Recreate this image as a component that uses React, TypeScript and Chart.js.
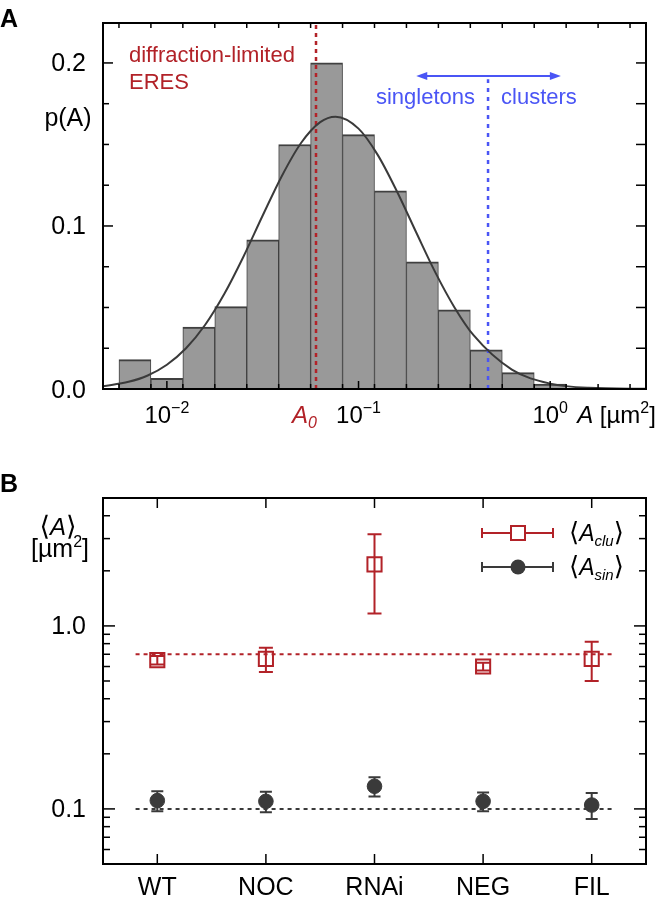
import React, { useEffect, useRef } from "react";
import { Chart, registerables } from "chart.js";
Chart.register(...registerables);

// ---------- Panel A data ----------
const binCenters = [0.006813, 0.01, 0.014678, 0.021544, 0.031623, 0.046416, 0.068129, 0.1, 0.14678, 0.21544, 0.31623, 0.46416, 0.68129, 1.0];
const binP = [0.018, 0.0065, 0.038, 0.0505, 0.0915, 0.15, 0.2, 0.156, 0.1215, 0.078, 0.0485, 0.024, 0.01, 0.003];
const binEdges = [0.005623, 0.008254, 0.012115, 0.017783, 0.026102, 0.038312, 0.056234, 0.08254, 0.12115, 0.17783, 0.26102, 0.38312, 0.56234, 0.8254, 1.2115, 1.7783, 2.6102];
const fitA = [0.004642, 0.00631, 0.007943, 0.01, 0.012589, 0.015849, 0.019953, 0.025119, 0.031623, 0.039811, 0.050119, 0.063096, 0.075858, 0.1, 0.125893, 0.158489, 0.199526, 0.251189, 0.316228, 0.398107, 0.630957, 1.0, 1.584893, 3.162];
const fitP = [0.0017, 0.0044, 0.0083, 0.0149, 0.025, 0.0394, 0.0584, 0.0813, 0.1064, 0.1307, 0.1509, 0.1637, 0.167, 0.1597, 0.1436, 0.1213, 0.0963, 0.0717, 0.0502, 0.033, 0.0119, 0.0033, 0.0007, 0.0001];
const yTicksA = [0, 0.1, 0.2];
const yMinorA = [0, 0.025, 0.05, 0.075, 0.1, 0.125, 0.15, 0.175, 0.2];
const decadesA = [0.01, 0.1, 1];
const decadeExp = ["\u22122", "\u22121", "0"];
const A0 = 0.06;
const splitA = 0.474;
const splitTop = 0.19;
const arrowFrom = 0.2;
const arrowTo = 1.137;
const arrowY = 0.192;
const xMinA = 0.004642;
const xMaxA = 3.162;
const yMaxA = 0.2245;

// ---------- Panel B data ----------
const categories = ["WT", "NOC", "RNAi", "NEG", "FIL"];
const cluMean = [0.65, 0.66, 2.17, 0.6, 0.66];
const cluErr = [0.035, 0.1, 1.0, 0.03, 0.16];
const sinMean = [0.111, 0.11, 0.133, 0.11, 0.105];
const sinErr = [0.014, 0.014, 0.016, 0.013, 0.017];
const cluRef = 0.7;
const sinRef = 0.1;
const refStart = -0.2;
const refEnd = 4.2;
const yTicksB = [0.05, 0.06, 0.07, 0.08, 0.09, 0.1, 0.2, 0.3, 0.4, 0.5, 0.6, 0.7, 0.8, 0.9, 1, 2, 3, 4, 5];
const yLabelsB = [1, 0.1];
const yLabelTextB = ["1.0", "0.1"];

const RED = "#b22228";
const BLUE = "#4a55f5";
const DARK = "#3a3a3a";
const FONT = "'Liberation Sans', Helvetica, Arial, 'DejaVu Sans', sans-serif";

type Seg = { t: string; size: number; style?: string; weight?: string; dy?: number; color?: string };

function rich(ctx: CanvasRenderingContext2D, segs: Seg[], x: number, y: number, align: string, color: string) {
  ctx.textBaseline = "alphabetic";
  ctx.textAlign = "left";
  const fontOf = (s: Seg) => `${s.style || "normal"} ${s.weight || "normal"} ${s.size}px ${FONT}`;
  let w = 0;
  const ws = segs.map((s) => {
    ctx.font = fontOf(s);
    const m = ctx.measureText(s.t).width;
    w += m;
    return m;
  });
  let cx = align === "left" ? x : align === "center" ? x - w / 2 : x - w;
  segs.forEach((s, i) => {
    ctx.font = fontOf(s);
    ctx.fillStyle = s.color || color;
    ctx.fillText(s.t, cx, y + (s.dy || 0));
    cx += ws[i];
  });
}

function line(ctx: CanvasRenderingContext2D, x1: number, y1: number, x2: number, y2: number) {
  ctx.beginPath();
  ctx.moveTo(x1, y1);
  ctx.lineTo(x2, y2);
  ctx.stroke();
}

const plugA = {
  id: "plugA",
  afterDraw(chart: any) {
    const { ctx, chartArea: ca } = chart;
    const x = chart.scales.x;
    const y = chart.scales.y;
    ctx.save();
    ctx.strokeStyle = "#000";
    ctx.lineWidth = 2;
    ctx.strokeRect(ca.left, ca.top, ca.right - ca.left, ca.bottom - ca.top);
    ctx.lineWidth = 1.5;
    yMinorA.forEach((v) => {
      const py = y.getPixelForValue(v);
      const major = Math.abs(v * 10 - Math.round(v * 10)) < 1e-6;
      line(ctx, ca.left, py, ca.left + (major ? 10 : 6), py);
      line(ctx, ca.right, py, ca.right - 10, py);
    });
    binEdges.forEach((v) => {
      const px = x.getPixelForValue(v);
      if (px <= ca.left + 1 || px >= ca.right - 1) return;
      line(ctx, px, ca.top, px, ca.top + 5);
      line(ctx, px, ca.bottom, px, ca.bottom - 5);
    });
    decadesA.forEach((v) => {
      const px = x.getPixelForValue(v);
      line(ctx, px, ca.bottom, px, ca.bottom - 8);
    });
    yTicksA.forEach((v) => {
      const py = y.getPixelForValue(v);
      rich(ctx, [{ t: v.toFixed(1), size: 25 }], ca.left - 17, py + 8.5, "right", "#000");
    });
    decadesA.forEach((v, i) => {
      const px = x.getPixelForValue(v);
      rich(ctx, [{ t: "10", size: 24 }, { t: decadeExp[i], size: 16, dy: -10 }], px, ca.bottom + 34, "center", "#000");
    });
    const p1 = x.getPixelForValue(1);
    rich(ctx, [{ t: "A", size: 24, style: "italic" }, { t: " [\u00b5m", size: 24 }, { t: "2", size: 16, dy: -10 }, { t: "]", size: 24 }], p1 + 27, ca.bottom + 34, "left", "#000");
    const pa0 = x.getPixelForValue(A0);
    rich(ctx, [{ t: "A", size: 24, style: "italic" }, { t: "0", size: 16, style: "italic", dy: 5 }], pa0 + 1, ca.bottom + 34, "right", RED);
    rich(ctx, [{ t: "p(A)", size: 25 }], 68, 126, "center", "#000");
    rich(ctx, [{ t: "diffraction-limited", size: 22 }], 129, 62, "left", RED);
    rich(ctx, [{ t: "ERES", size: 22 }], 129, 89, "left", RED);
    const psplit = x.getPixelForValue(splitA);
    rich(ctx, [{ t: "singletons", size: 22 }], psplit - 13, 104, "right", BLUE);
    rich(ctx, [{ t: "clusters", size: 22 }], psplit + 13, 104, "left", BLUE);
    const ax1 = x.getPixelForValue(arrowFrom);
    const ax2 = x.getPixelForValue(arrowTo);
    const ay = y.getPixelForValue(arrowY);
    ctx.strokeStyle = BLUE;
    ctx.fillStyle = BLUE;
    ctx.lineWidth = 2;
    line(ctx, ax1 + 4, ay, ax2 - 4, ay);
    ctx.beginPath();
    ctx.moveTo(ax1, ay);
    ctx.lineTo(ax1 + 11, ay - 4);
    ctx.lineTo(ax1 + 11, ay + 4);
    ctx.closePath();
    ctx.fill();
    ctx.beginPath();
    ctx.moveTo(ax2, ay);
    ctx.lineTo(ax2 - 11, ay - 4);
    ctx.lineTo(ax2 - 11, ay + 4);
    ctx.closePath();
    ctx.fill();
    rich(ctx, [{ t: "A", size: 25, weight: "bold" }], 0, 27, "left", "#000");
    ctx.restore();
  },
};

function errBar(ctx: CanvasRenderingContext2D, px: number, yS: any, mean: number, err: number, cap: number) {
  const yt = yS.getPixelForValue(mean + err);
  const yb = yS.getPixelForValue(mean - err);
  ctx.beginPath();
  ctx.moveTo(px, yt);
  ctx.lineTo(px, yb);
  ctx.moveTo(px - cap, yt);
  ctx.lineTo(px + cap, yt);
  ctx.moveTo(px - cap, yb);
  ctx.lineTo(px + cap, yb);
  ctx.stroke();
}

const plugB = {
  id: "plugB",
  beforeDatasetsDraw(chart: any) {
    const { ctx } = chart;
    const x = chart.scales.x;
    const y = chart.scales.y;
    ctx.save();
    ctx.lineWidth = 2;
    categories.forEach((_, i) => {
      const px = x.getPixelForValue(i);
      ctx.strokeStyle = RED;
      errBar(ctx, px, y, cluMean[i], cluErr[i], 7);
      ctx.strokeStyle = DARK;
      errBar(ctx, px, y, sinMean[i], sinErr[i], 6);
    });
    ctx.restore();
  },
  afterDraw(chart: any) {
    const { ctx, chartArea: ca } = chart;
    const x = chart.scales.x;
    const y = chart.scales.y;
    ctx.save();
    ctx.strokeStyle = "#000";
    ctx.lineWidth = 2;
    ctx.strokeRect(ca.left, ca.top, ca.right - ca.left, ca.bottom - ca.top);
    ctx.lineWidth = 1.5;
    yTicksB.forEach((v) => {
      const py = y.getPixelForValue(v);
      if (py <= ca.top + 1 || py >= ca.bottom - 1) return;
      const lg = Math.log10(v);
      const major = Math.abs(lg - Math.round(lg)) < 1e-6;
      const len = major ? 12 : 7;
      line(ctx, ca.left, py, ca.left + len, py);
      line(ctx, ca.right, py, ca.right - len, py);
    });
    categories.forEach((c, i) => {
      const px = x.getPixelForValue(i);
      line(ctx, px, ca.top, px, ca.top + 10);
      line(ctx, px, ca.bottom, px, ca.bottom - 10);
      rich(ctx, [{ t: c, size: 25 }], px, ca.bottom + 31, "center", "#000");
    });
    yLabelsB.forEach((v, i) => {
      const py = y.getPixelForValue(v);
      rich(ctx, [{ t: yLabelTextB[i], size: 25 }], ca.left - 17, py + 8.5, "right", "#000");
    });
    rich(ctx, [{ t: "\u27e8", size: 27 }, { t: "A", size: 24, style: "italic" }, { t: "\u27e9", size: 27 }], 58, 85, "center", "#000");
    rich(ctx, [{ t: "[\u00b5m", size: 25 }, { t: "2", size: 16, dy: -10 }, { t: "]", size: 25 }], 60, 107, "center", "#000");
    const lx1 = 482, lx2 = 553, lm = 518, lt = 569;
    const r1 = 83, r2 = 117;
    ctx.lineWidth = 2;
    ctx.strokeStyle = RED;
    line(ctx, lx1, r1, lx2, r1);
    line(ctx, lx1, r1 - 5, lx1, r1 + 5);
    line(ctx, lx2, r1 - 5, lx2, r1 + 5);
    ctx.fillStyle = "#fff";
    ctx.fillRect(lm - 7, r1 - 7, 14, 14);
    ctx.strokeRect(lm - 7, r1 - 7, 14, 14);
    rich(ctx, [{ t: "\u27e8", size: 26 }, { t: "A", size: 23, style: "italic" }, { t: "clu", size: 15, style: "italic", dy: 5 }, { t: "\u27e9", size: 26 }], lt, r1 + 8, "left", "#000");
    ctx.strokeStyle = DARK;
    line(ctx, lx1, r2, lx2, r2);
    line(ctx, lx1, r2 - 5, lx1, r2 + 5);
    line(ctx, lx2, r2 - 5, lx2, r2 + 5);
    ctx.fillStyle = DARK;
    ctx.beginPath();
    ctx.arc(lm, r2, 7.5, 0, Math.PI * 2);
    ctx.fill();
    rich(ctx, [{ t: "\u27e8", size: 26 }, { t: "A", size: 23, style: "italic" }, { t: "sin", size: 15, style: "italic", dy: 5 }, { t: "\u27e9", size: 26 }], lt, r2 + 8, "left", "#000");
    rich(ctx, [{ t: "B", size: 25, weight: "bold" }], 0, 42, "left", "#000");
    ctx.restore();
  },
};

export default function App() {
  const refA = useRef<HTMLCanvasElement>(null);
  const refB = useRef<HTMLCanvasElement>(null);
  useEffect(() => {
    const chartA = new Chart(refA.current as HTMLCanvasElement, {
      type: "bar",
      data: {
        datasets: [
          {
            type: "line",
            label: "fit",
            data: fitA.map((a, i) => ({ x: a, y: fitP[i] })),
            borderColor: DARK,
            borderWidth: 2,
            pointRadius: 0,
            cubicInterpolationMode: "monotone",
            order: 1,
          } as any,
          {
            type: "line",
            label: "A0",
            data: [{ x: A0, y: 0 }, { x: A0, y: yMaxA }],
            borderColor: RED,
            borderWidth: 2.5,
            borderDash: [4, 4],
            pointRadius: 0,
            order: 2,
          },
          {
            type: "line",
            label: "split",
            data: [{ x: splitA, y: 0 }, { x: splitA, y: splitTop }],
            borderColor: BLUE,
            borderWidth: 2.5,
            borderDash: [4, 5],
            pointRadius: 0,
            order: 2,
          },
          {
            type: "bar",
            label: "p(A)",
            data: binCenters.map((c, i) => ({ x: c, y: binP[i] })),
            backgroundColor: "#999999",
            borderColor: "#404040",
            borderWidth: { top: 2, left: 1, right: 1, bottom: 0 },
            borderSkipped: false,
            barPercentage: 1,
            categoryPercentage: 1,
            order: 3,
          } as any,
        ],
      },
      options: {
        responsive: false,
        animation: false,
        layout: { padding: { left: 103, top: 23, right: 20, bottom: 61 } },
        plugins: { legend: { display: false }, tooltip: { enabled: false } },
        scales: {
          x: {
            type: "logarithmic",
            min: xMinA,
            max: xMaxA,
            display: false,
            offset: false,
            grid: { offset: false },
            afterBuildTicks: (s: any) => {
              s.ticks = binCenters.map((v) => ({ value: v }));
            },
          } as any,
          y: { type: "linear", min: 0, max: yMaxA, display: false },
        },
      },
      plugins: [plugA],
    } as any);

    const chartB = new Chart(refB.current as HTMLCanvasElement, {
      type: "scatter",
      data: {
        datasets: [
          {
            label: "clu",
            data: categories.map((_, i) => ({ x: i, y: cluMean[i] })),
            pointStyle: "rect",
            pointRadius: 10,
            borderColor: RED,
            borderWidth: 2,
            backgroundColor: "rgba(0,0,0,0)",
            order: 1,
          },
          {
            label: "sin",
            data: categories.map((_, i) => ({ x: i, y: sinMean[i] })),
            pointStyle: "circle",
            pointRadius: 7.3,
            borderColor: DARK,
            borderWidth: 1,
            backgroundColor: DARK,
            order: 1,
          },
          {
            type: "line",
            label: "cluRef",
            data: [{ x: refStart, y: cluRef }, { x: refEnd, y: cluRef }],
            borderColor: RED,
            borderWidth: 2,
            borderDash: [4, 4],
            pointRadius: 0,
            showLine: true,
            order: 3,
          },
          {
            type: "line",
            label: "sinRef",
            data: [{ x: refStart, y: sinRef }, { x: refEnd, y: sinRef }],
            borderColor: DARK,
            borderWidth: 2,
            borderDash: [4, 4],
            pointRadius: 0,
            showLine: true,
            order: 3,
          },
        ],
      },
      options: {
        responsive: false,
        animation: false,
        layout: { padding: { left: 103, top: 48, right: 20, bottom: 35 } },
        plugins: { legend: { display: false }, tooltip: { enabled: false } },
        scales: {
          x: { type: "linear", min: -0.5, max: 4.5, display: false },
          y: { type: "logarithmic", min: 0.05, max: 5, display: false },
        },
      },
      plugins: [plugB],
    } as any);

    return () => {
      chartA.destroy();
      chartB.destroy();
    };
  }, []);

  return (
    <div style={{ position: "absolute", left: 0, top: 0, width: 666, height: 899, background: "#fff", overflow: "hidden" }}>
      <canvas ref={refA} width={666} height={450} style={{ position: "absolute", left: 0, top: 0, width: 666, height: 450 }} />
      <canvas ref={refB} width={666} height={449} style={{ position: "absolute", left: 0, top: 450, width: 666, height: 449 }} />
    </div>
  );
}
